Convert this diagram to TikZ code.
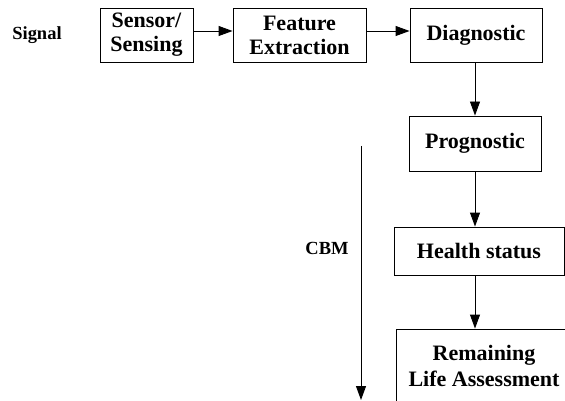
\documentclass[tikz,border=0pt]{standalone}
\usepackage{fontspec}
\setmainfont{Liberation Serif}
\usetikzlibrary{arrows.meta}
\begin{document}
\begin{tikzpicture}[x=1pt,y=-1pt,
  box/.style={draw, line width=0.9pt, inner sep=0pt, align=center,
    font=\fontsize{22}{24}\selectfont\bfseries},
  lbl/.style={inner sep=0pt, font=\fontsize{18.5}{20}\selectfont\bfseries},
  arr/.style={line width=0.9pt, -{Triangle[length=14pt,width=10pt]}}]
\useasboundingbox (0,0) rectangle (565,401);
\clip (0,0) rectangle (565,401);
\node[lbl] (signal) at (37,35) {Signal};
\node[box, minimum width=93pt, minimum height=54pt] (sensor) at (146.5,35) {Sensor/\\Sensing};
\node[box, minimum width=133pt, minimum height=54pt] (feature) at (299.5,35) {Feature\\Extraction};
\node[box, minimum width=132pt, minimum height=54pt] (diag) at (476,35) {Diagnostic};
\node[box, minimum width=132pt, minimum height=55pt] (prog) at (475,143.5) {Prognostic};
\node[box, minimum width=170pt, minimum height=48pt] (health) at (479,251) {Health status};
\node[box, minimum width=176pt, minimum height=74pt, font=\fontsize{22}{26}\selectfont\bfseries] (rem) at (484,366) {Remaining\\Life Assessment};
\node[lbl] (cbm) at (327,248) {CBM};
\coordinate (row) at (0,31);
\coordinate (col) at (475,0);
\coordinate (cbmtop) at (361,146);
\coordinate (cbmbot) at (361,400);
\draw[arr] (sensor.east |- row) -- (feature.west |- row);
\draw[arr] (feature.east |- row) -- (diag.west |- row);
\draw[arr] (diag.south -| col) -- (prog.north -| col);
\draw[arr] (prog.south -| col) -- (health.north -| col);
\draw[arr] (health.south -| col) -- (rem.north -| col);
\draw[arr] (cbmtop) -- (cbmbot);
\end{tikzpicture}
\end{document}
